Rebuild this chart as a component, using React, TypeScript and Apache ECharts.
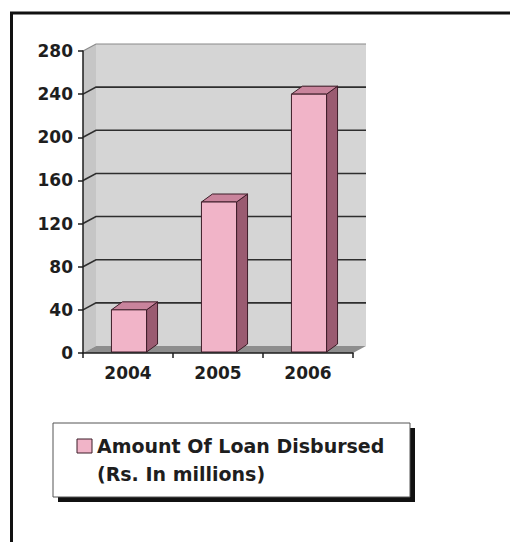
import React, { useEffect, useRef } from "react";
import * as echarts from "echarts";

const categories = ["2004", "2005", "2006"];
const loanAmounts = [40, 140, 240];
const gridValues = [40, 80, 120, 160, 200, 240, 280];
const yMin = 0;
const yMax = 280;
const yInterval = 40;
const seriesName = "Amount Of Loan Disbursed";
const legendSubtitle = "(Rs. In millions)";

const WALL_DX = 13;
const WALL_DY = -7;
const BAR_DX = 11;
const BAR_DY = -8;
const FONT = '"DejaVu Sans", "Liberation Sans", Arial, sans-serif';

export default function App() {
  const ref = useRef<HTMLDivElement>(null);

  useEffect(() => {
    if (!ref.current) return;
    const chart = echarts.init(ref.current, undefined, { renderer: "svg" });

    const wallsItem = (params: any) => {
      const cs = params.coordSys;
      const x0 = cs.x;
      const y0 = cs.y;
      const right = cs.x + cs.width;
      const bottom = cs.y + cs.height;
      return {
        type: "group",
        children: [
          {
            type: "polygon",
            shape: {
              points: [
                [x0, y0],
                [x0 + WALL_DX, y0 + WALL_DY],
                [x0 + WALL_DX, bottom + WALL_DY],
                [x0, bottom],
              ],
            },
            style: { fill: "#c6c6c6", stroke: "none" },
          },
          {
            type: "rect",
            shape: { x: x0 + WALL_DX, y: y0 + WALL_DY, width: cs.width, height: cs.height },
            style: { fill: "#d5d5d5", stroke: "none" },
          },
          {
            type: "polygon",
            shape: {
              points: [
                [x0, bottom],
                [x0 + WALL_DX, bottom + WALL_DY],
                [right + WALL_DX, bottom + WALL_DY],
                [right, bottom],
              ],
            },
            style: { fill: "#8e8e8e", stroke: "none" },
          },
        ],
      };
    };

    const gridItem = (params: any, api: any) => {
      const cs = params.coordSys;
      const x0 = cs.x;
      const right = cs.x + cs.width;
      const v = api.value(1);
      const y = api.coord([0, v])[1];
      const isTop = v === yMax;
      return {
        type: "polyline",
        shape: {
          points: [
            [x0, y],
            [x0 + WALL_DX, y + WALL_DY],
            [right + WALL_DX, y + WALL_DY],
          ],
        },
        style: { fill: "none", stroke: isTop ? "#8a8a8a" : "#2e2e2e", lineWidth: isTop ? 1.2 : 1.6 },
      };
    };

    const barItem = (params: any, api: any) => {
      const idx = api.value(0);
      const val = api.value(1);
      const top = api.coord([idx, val]);
      const base = api.coord([idx, 0]);
      const bw = api.size([1, 0])[0] * 0.39;
      const x1 = top[0] - bw / 2 + 1;
      const x2 = x1 + bw;
      const ty = top[1];
      const by = base[1] - 1;
      const stroke = "#3d1c28";
      return {
        type: "group",
        children: [
          {
            type: "polygon",
            shape: {
              points: [
                [x2, ty],
                [x2 + BAR_DX, ty + BAR_DY],
                [x2 + BAR_DX, by + BAR_DY],
                [x2, by],
              ],
            },
            style: { fill: "#9a5b71", stroke, lineWidth: 1 },
          },
          {
            type: "polygon",
            shape: {
              points: [
                [x1, ty],
                [x1 + BAR_DX, ty + BAR_DY],
                [x2 + BAR_DX, ty + BAR_DY],
                [x2, ty],
              ],
            },
            style: { fill: "#c9849c", stroke, lineWidth: 1 },
          },
          {
            type: "rect",
            shape: { x: x1, y: ty, width: bw, height: by - ty },
            style: { fill: "#f1b4c8", stroke, lineWidth: 1 },
          },
        ],
      };
    };

    chart.setOption({
      animation: false,
      backgroundColor: "#ffffff",
      grid: { left: 83, top: 51, right: 157, bottom: 189, containLabel: false },
      xAxis: {
        type: "category",
        data: categories,
        boundaryGap: true,
        axisLine: { show: true, lineStyle: { color: "#1e1e1e", width: 1.5 } },
        axisTick: { show: true, length: 5, lineStyle: { color: "#1e1e1e", width: 1.5 } },
        axisLabel: { color: "#1e1e1e", fontFamily: FONT, fontWeight: "bold", fontSize: 17, margin: 11 },
        splitLine: { show: false },
        z: 10,
      },
      yAxis: {
        type: "value",
        min: yMin,
        max: yMax,
        interval: yInterval,
        axisLine: { show: true, lineStyle: { color: "#1e1e1e", width: 1.5 } },
        axisTick: { show: true, length: 5, lineStyle: { color: "#1e1e1e", width: 1.5 } },
        axisLabel: { color: "#1e1e1e", fontFamily: FONT, fontWeight: "bold", fontSize: 17, margin: 10 },
        splitLine: { show: false },
        z: 10,
      },
      series: [
        {
          type: "custom",
          name: "walls",
          renderItem: wallsItem,
          data: [[0, 0]],
          z: 1,
          silent: true,
        },
        {
          type: "custom",
          name: "grid",
          renderItem: gridItem,
          data: gridValues.map((v) => [0, v]),
          z: 2,
          silent: true,
        },
        {
          type: "custom",
          name: seriesName,
          renderItem: barItem,
          data: loanAmounts.map((v, i) => [i, v]),
          z: 3,
        },
      ],
      graphic: [
        {
          type: "rect",
          shape: { x: 11.5, y: 13, width: 640, height: 640 },
          style: { fill: "none", stroke: "#111111", lineWidth: 3 },
          z: 100,
        },
        {
          type: "rect",
          shape: { x: 58, y: 428, width: 357, height: 74 },
          style: { fill: "#111111" },
          z: 100,
        },
        {
          type: "rect",
          shape: { x: 53, y: 423, width: 357, height: 74 },
          style: { fill: "#ffffff", stroke: "#555555", lineWidth: 1 },
          z: 101,
        },
        {
          type: "rect",
          shape: { x: 77, y: 439, width: 15, height: 14 },
          style: { fill: "#f1b4c8", stroke: "#3d1c28", lineWidth: 1 },
          z: 102,
        },
        {
          type: "text",
          x: 97,
          y: 446,
          style: {
            text: seriesName,
            fill: "#1e1e1e",
            font: `bold 19px ${FONT}`,
            textVerticalAlign: "middle",
            textAlign: "left",
          },
          z: 102,
        },
        {
          type: "text",
          x: 97,
          y: 474,
          style: {
            text: legendSubtitle,
            fill: "#1e1e1e",
            font: `bold 19px ${FONT}`,
            textVerticalAlign: "middle",
            textAlign: "left",
          },
          z: 102,
        },
      ],
    });

    return () => {
      chart.dispose();
    };
  }, []);

  return (
    <div
      ref={ref}
      style={{ position: "fixed", left: 0, top: 0, width: 510, height: 542, background: "#fff" }}
    />
  );
}
